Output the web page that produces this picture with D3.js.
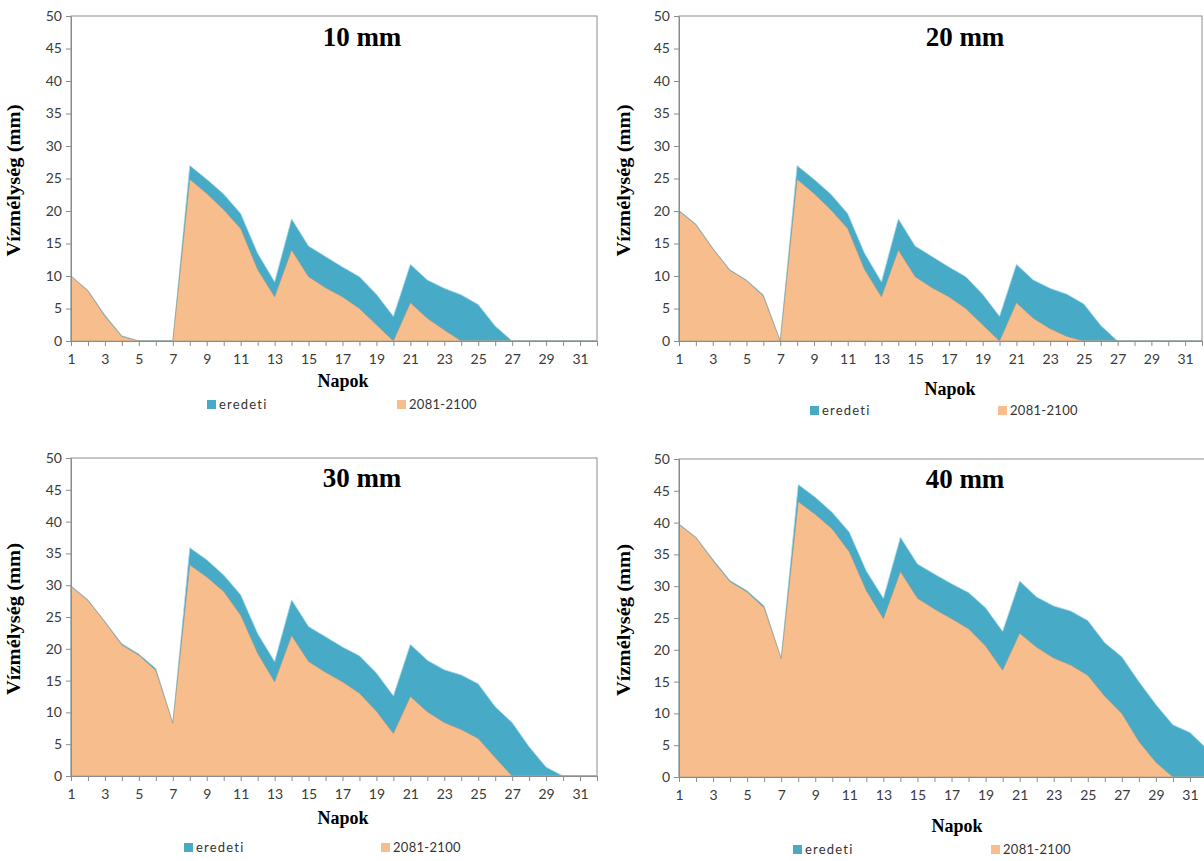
<!DOCTYPE html>
<html>
<head>
<meta charset="utf-8">
<script src="https://cdn.jsdelivr.net/npm/d3@7"></script>
<style>
  body { margin: 0; background: #fff; }
  svg { display: block; }
  .tick text { font-family: Lato, "Open Sans", sans-serif; font-size: 14px; fill: #3a3a3a; }
</style>
</head>
<body>
<script>
// days of the month (category axis)
const days = [1, 2, 3, 4, 5, 6, 7, 8, 9, 10, 11, 12, 13, 14, 15, 16,
  17, 18, 19, 20, 21, 22, 23, 24, 25, 26, 27, 28, 29, 30, 31, 32];
const xTickLabels = [1, 3, 5, 7, 9, 11, 13, 15, 17, 19, 21, 23, 25, 27, 29, 31];
const yTicks = [0, 5, 10, 15, 20, 25, 30, 35, 40, 45, 50];
const seriesNames = ["eredeti", "2081-2100"];
const panelTitles = ["10 mm", "20 mm", "30 mm", "40 mm"];

// water depth (mm)
const eredeti10 = [10, 7.8, 4, 0.8, 0, 0, 0, 27, 24.9, 22.6, 19.6, 13.5, 9.1, 18.8, 14.6, 13, 11.4, 9.9, 7.2, 3.8, 11.8, 9.4, 8.1, 7.1, 5.6, 2.3, 0, 0, 0, 0, 0, 0];
const future10 = [10, 7.7, 3.8, 0.7, 0, 0, 0, 24.9, 22.7, 20.2, 17.3, 11, 6.8, 14, 9.9, 8.2, 6.8, 5, 2.5, 0, 5.9, 3.5, 1.7, 0, 0, 0, 0, 0, 0, 0, 0, 0];

const eredeti20 = [20.1, 18, 14.3, 11, 9.4, 7.1, 0, 27, 24.9, 22.6, 19.6, 13.5, 9.1, 18.8, 14.6, 13, 11.4, 9.9, 7.2, 3.8, 11.8, 9.4, 8.1, 7.2, 5.7, 2.4, 0, 0, 0, 0, 0, 0];
const future20 = [20, 17.9, 14.2, 10.9, 9.3, 6.9, 0, 24.9, 22.7, 20.2, 17.3, 11, 6.8, 14, 9.9, 8.2, 6.8, 5, 2.5, 0, 5.9, 3.5, 1.9, 0.7, 0, 0, 0, 0, 0, 0, 0, 0];

const eredeti30 = [29.9, 27.7, 24.3, 20.8, 19.2, 16.9, 8.3, 35.9, 34, 31.6, 28.5, 22.4, 18, 27.7, 23.5, 21.9, 20.3, 18.9, 16.2, 12.6, 20.7, 18.2, 16.7, 15.9, 14.5, 10.9, 8.4, 4.6, 1.4, 0, 0, 0];
const future30 = [29.8, 27.6, 24.2, 20.6, 19, 16.6, 8.3, 33.2, 31.3, 29, 25.3, 19.3, 14.8, 22.1, 18, 16.3, 14.8, 13, 10.2, 6.7, 12.5, 10.1, 8.4, 7.3, 5.9, 2.9, 0, 0, 0, 0, 0, 0];

const eredeti40 = [39.8, 37.7, 34.2, 30.9, 29.3, 26.9, 18.6, 46, 44, 41.6, 38.5, 32.4, 28.1, 37.7, 33.5, 31.9, 30.4, 29, 26.6, 22.9, 30.8, 28.3, 26.9, 26.1, 24.6, 21.1, 18.9, 15, 11.4, 8.2, 7, 4.4];
const future40 = [39.7, 37.6, 34, 30.7, 29.1, 26.6, 18.6, 43.3, 41.3, 39, 35.4, 29.3, 24.9, 32.3, 28.1, 26.4, 24.9, 23.3, 20.6, 16.8, 22.6, 20.4, 18.7, 17.6, 16, 12.7, 10, 5.6, 2.3, 0, 0, 0];

const colors = { eredeti: "#47aac7", future: "#f8bd8d" };

const svg = d3.select("body").append("svg")
  .attr("width", 1204)
  .attr("height", 861);

svg.append("rect").attr("width", 1204).attr("height", 861).attr("fill", "#fff");

// layout of the four panels
const panels = [
  { title: panelTitles[0], base: eredeti10, fut: future10,
    left: 71, right: 597, top: 16, bottom: 341,
    titleX: 362, titleY: 46, yTitleX: 20, napokX: 343, napokY: 387,
    legY: 409, legA: 207, legB: 397 },
  { title: panelTitles[1], base: eredeti20, fut: future20,
    left: 679, right: 1202, top: 16, bottom: 341,
    titleX: 965, titleY: 46, yTitleX: 630, napokX: 950, napokY: 395,
    legY: 415, legA: 810, legB: 998 },
  { title: panelTitles[2], base: eredeti30, fut: future30,
    left: 71, right: 597, top: 458, bottom: 776,
    titleX: 362, titleY: 487, yTitleX: 20, napokX: 343, napokY: 824,
    legY: 852, legA: 184, legB: 381 },
  { title: panelTitles[3], base: eredeti40, fut: future40,
    left: 679, right: 1207, top: 459, bottom: 777,
    titleX: 965, titleY: 488, yTitleX: 630, napokX: 957, napokY: 832,
    legY: 854, legA: 793, legB: 991 }
];

panels.forEach(p => {
  const g = svg.append("g");

  const x = d3.scalePoint().domain(days).range([p.left, p.right]);
  const y = d3.scaleLinear().domain([0, 50]).range([p.bottom, p.top]);

  const area = vals => d3.area()
    .x((d, i) => x(days[i]))
    .y0(y(0))
    .y1(d => y(d))(vals);

  // plot area frame
  g.append("rect")
    .attr("x", p.left).attr("y", p.top)
    .attr("width", p.right - p.left).attr("height", p.bottom - p.top)
    .attr("fill", "none").attr("stroke", "#8c8c8c").attr("stroke-width", 1);

  // eredeti behind, 2081-2100 on top
  g.append("path")
    .attr("d", area(p.base))
    .attr("fill", colors.eredeti)
    .attr("stroke", "#a9dbe9").attr("stroke-width", 0.8);

  g.append("path")
    .attr("d", area(p.fut))
    .attr("fill", colors.future)
    .attr("stroke", "#9c9a88").attr("stroke-width", 0.7);

  // y axis
  g.append("g")
    .attr("transform", `translate(${p.left},0)`)
    .call(d3.axisLeft(y).tickValues(yTicks).tickSize(5).tickPadding(4).tickSizeOuter(0))
    .call(a => a.select(".domain").attr("stroke", "#8c8c8c"))
    .call(a => a.selectAll(".tick line").attr("stroke", "#8c8c8c"));

  // x axis: a tick at every day, label on odd days
  g.append("g")
    .attr("transform", `translate(0,${p.bottom})`)
    .call(d3.axisBottom(x).tickSize(5).tickPadding(8).tickSizeOuter(0)
      .tickFormat(d => xTickLabels.includes(d) ? d : ""))
    .call(a => a.select(".domain").attr("stroke", "#8c8c8c"))
    .call(a => a.selectAll(".tick line").attr("stroke", "#8c8c8c"));

  // panel title
  g.append("text")
    .attr("x", p.titleX).attr("y", p.titleY)
    .attr("text-anchor", "middle")
    .style("font-family", "'Liberation Serif', serif")
    .style("font-weight", "bold").style("font-size", "27px")
    .text(p.title);

  // axis titles
  g.append("text")
    .attr("transform", `translate(${p.yTitleX},${(p.top + p.bottom) / 2 + 2}) rotate(-90)`)
    .attr("text-anchor", "middle")
    .attr("textLength", 152).attr("lengthAdjust", "spacingAndGlyphs")
    .style("font-family", "'Liberation Serif', serif")
    .style("font-weight", "bold").style("font-size", "18px")
    .text("Vízmélység (mm)");

  g.append("text")
    .attr("x", p.napokX).attr("y", p.napokY)
    .attr("text-anchor", "middle")
    .style("font-family", "'Liberation Serif', serif")
    .style("font-weight", "bold").style("font-size", "18px")
    .text("Napok");

  // legend
  const leg = [
    { name: seriesNames[0], color: colors.eredeti, x: p.legA },
    { name: seriesNames[1], color: colors.future, x: p.legB }
  ];
  leg.forEach(l => {
    g.append("rect")
      .attr("x", l.x).attr("y", p.legY - 9)
      .attr("width", 9).attr("height", 9)
      .attr("fill", l.color);
    g.append("text")
      .attr("x", l.x + 12).attr("y", p.legY)
      .style("font-family", "Lato, sans-serif").style("font-size", "13px")
      .style("letter-spacing", l.name === "eredeti" ? "1.2px" : "0.3px")
      .attr("fill", "#333")
      .text(l.name);
  });
});
</script>
</body>
</html>
